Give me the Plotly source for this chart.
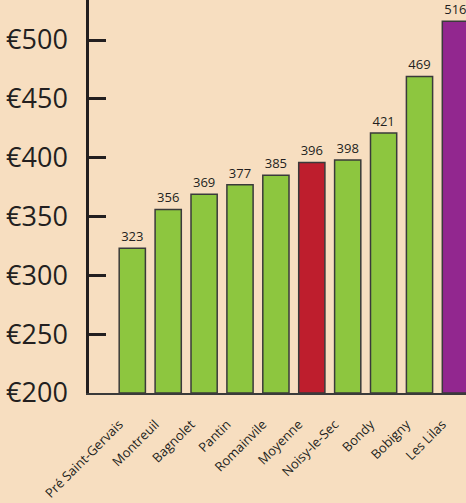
import plotly.graph_objects as go

categories = ["Pré Saint-Gervais", "Montreuil", "Bagnolet", "Pantin", "Romainvile",
              "Moyenne", "Noisy-le-Sec", "Bondy", "Bobigny", "Les Lilas"]
values = [323, 356, 369, 377, 385, 396, 398, 421, 469, 516]
bar_colors = ["#8dc63f"] * 5 + ["#be1e2d"] + ["#8dc63f"] * 3 + ["#92278f"]
y_ticks = [200, 250, 300, 350, 400, 450, 500]

DARK = "#231f20"
BG = "#f7dec0"

fig = go.Figure(go.Bar(
    x=categories,
    y=[v - 200 for v in values],
    base=200,
    marker=dict(color=bar_colors, line=dict(color="#3a3a3a", width=1.5)),
    text=[str(v) for v in values],
    textposition="outside",
    textfont=dict(family="Open Sans", size=13, color=DARK),
    cliponaxis=False,
    width=0.73,
))

fig.update_layout(
    width=466, height=503,
    margin=dict(l=89, r=0, t=0, b=110),
    paper_bgcolor=BG, plot_bgcolor=BG,
    showlegend=False,
    font=dict(family="Open Sans", color=DARK),
)
fig.update_xaxes(
    type="category",
    range=[-1.206, 9.295],
    tickangle=-45,
    tickfont=dict(family="Open Sans", size=13, color=DARK),
    showline=True, linecolor="#3a3a3a", linewidth=1.5,
    ticks="", showgrid=False, zeroline=False,
    ticklabelstandoff=17, ticklabelshift=-13,
    automargin=False,
)
fig.update_yaxes(
    range=[200, 534],
    tickvals=y_ticks,
    ticktext=["€" + str(t) for t in y_ticks],
    tickfont=dict(family="Open Sans", size=27, color=DARK),
    ticks="inside", ticklen=17, tickwidth=2.5, tickcolor=DARK,
    showline=True, linecolor=DARK, linewidth=2.5,
    showgrid=False, zeroline=False,
    ticklabelstandoff=13,
    automargin=False,
)

fig.write_html(
    "out.html",
    config={"displayModeBar": False},
    post_script="document.body.style.margin='0';document.body.style.overflow='hidden';",
)
